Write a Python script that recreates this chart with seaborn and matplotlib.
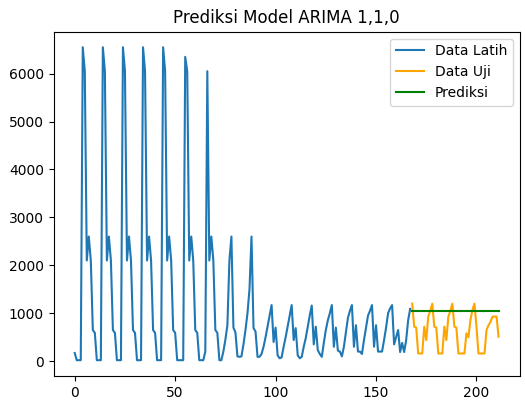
import matplotlib
matplotlib.use("Agg")
import matplotlib.pyplot as plt
import seaborn as sns

# data latih (index 0 - 167)
latih = [
    170, 20, 20, 20,
    6550, 6050, 2100, 2600, 2100, 650, 590, 20, 20, 20,
    6550, 6050, 2100, 2600, 2100, 650, 590, 20, 20, 20,
    6550, 6050, 2100, 2600, 2100, 650, 590, 20, 20, 20,
    6550, 6050, 2100, 2600, 2100, 650, 590, 20, 20, 20,
    6550, 6050, 2100, 2600, 2100, 650, 590, 20, 20, 20, 20,
    6350, 6050, 2100, 2600, 2100, 650, 590, 20, 20, 20, 200,
    6050, 2100, 2600, 2100, 650, 590, 20, 20, 200, 450, 750, 2100,
    2600, 700, 600, 100, 90, 100, 350, 650, 1000, 1500,
    2600, 690, 620, 90, 90, 150, 300, 500, 720, 950,
    1170, 400, 700, 120, 60, 80, 300, 500, 720, 950,
    1170, 440, 690, 125, 60, 90, 300, 480, 720, 950,
    1160, 350, 720, 230, 150, 90, 380, 650, 850, 1000,
    1170, 300, 700, 220, 200, 100, 300, 600, 900, 1050,
    1170, 300, 750, 200, 200, 150, 440, 700, 950, 1050,
    1170, 300, 750, 200, 200, 200, 440, 700, 1000, 1100,
    1170, 350, 500, 650, 190, 380, 190, 440, 860, 1090,
]

# data uji (index 168 - 211)
uji = [
    1200, 720, 700, 160, 160, 160, 720, 440, 930, 1050,
    1200, 720, 700, 160, 160, 160, 720, 440, 930, 1050,
    1200, 720, 700, 160, 160, 160, 160, 580, 500, 860, 1070,
    1200, 720, 160, 160, 160, 160, 650, 750, 820, 930, 930, 930, 510,
]

# hasil prediksi ARIMA(1,1,0)
prediksi = [
    1045, 1045, 1045, 1045, 1045, 1045, 1045, 1045, 1045, 1045, 1045,
    1045, 1045, 1045, 1045, 1045, 1045, 1045, 1045, 1045, 1045, 1045,
    1045, 1045, 1045, 1045, 1045, 1045, 1045, 1045, 1045, 1045, 1045,
    1045, 1045, 1045, 1045, 1045, 1045, 1045, 1045, 1045, 1045, 1045,
]

x_latih = list(range(len(latih)))
x_uji = list(range(len(latih), len(latih) + len(uji)))

fig, ax = plt.subplots(figsize=(5.25, 4.05), dpi=100)
fig.subplots_adjust(left=0.102, right=0.99, top=0.922, bottom=0.072)

sns.lineplot(x=x_latih, y=latih, color="#1f77b4", label="Data Latih", ax=ax)
sns.lineplot(x=x_uji, y=uji, color="orange", label="Data Uji", ax=ax)
sns.lineplot(x=x_uji, y=prediksi, color="green", label="Prediksi", ax=ax)

ax.set_title("Prediksi Model ARIMA 1,1,0")
ax.legend(loc="upper right")

plt.savefig("out.png", dpi=100)
